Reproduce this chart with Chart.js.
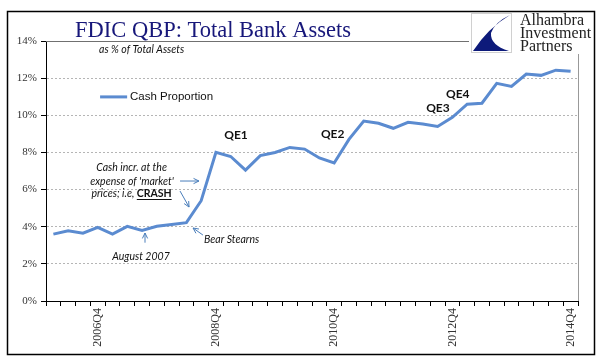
<!DOCTYPE html>
<html>
<head>
<meta charset="utf-8">
<script src="https://cdn.jsdelivr.net/npm/chart.js@4"></script>
<style>
  html, body { margin: 0; padding: 0; background: #fff; }
  canvas { display: block; }
</style>
</head>
<body>
<canvas id="grafico" width="601" height="361"></canvas>
<script>
// datos del grafico
const quarters = [
  '2006Q1', '2006Q2', '2006Q3', '2006Q4', '2007Q1', '2007Q2', '2007Q3', '2007Q4',
  '2008Q1', '2008Q2', '2008Q3', '2008Q4', '2009Q1', '2009Q2', '2009Q3', '2009Q4',
  '2010Q1', '2010Q2', '2010Q3', '2010Q4', '2011Q1', '2011Q2', '2011Q3', '2011Q4',
  '2012Q1', '2012Q2', '2012Q3', '2012Q4', '2013Q1', '2013Q2', '2013Q3', '2013Q4',
  '2014Q1', '2014Q2', '2014Q3', '2014Q4'
];
const cashProportion = [
  3.60, 3.78, 3.65, 3.97, 3.60, 4.02, 3.80, 4.02,
  4.12, 4.22, 5.40, 8.00, 7.78, 7.05, 7.83, 8.00,
  8.27, 8.18, 7.70, 7.43, 8.70, 9.69, 9.57, 9.30,
  9.62, 9.53, 9.40, 9.89, 10.60, 10.65, 11.72, 11.55,
  12.22, 12.15, 12.43, 12.37
];
const labeledQuarters = ['2006Q4', '2008Q4', '2010Q4', '2012Q4', '2014Q4'];
const yMin = 0, yMax = 14, yStep = 2;

const lineColor = '#5B8BD0';
const arrowColor = '#4A7EBB';
const noteFont = 'Lato, "Open Sans", sans-serif';

function arrow(ctx, x1, y1, x2, y2) {
  const a = Math.atan2(y2 - y1, x2 - x1), h = 6;
  ctx.beginPath();
  ctx.moveTo(x1, y1);
  ctx.lineTo(x2, y2);
  ctx.moveTo(x2 - h * Math.cos(a - 0.45), y2 - h * Math.sin(a - 0.45));
  ctx.lineTo(x2, y2);
  ctx.lineTo(x2 - h * Math.cos(a + 0.45), y2 - h * Math.sin(a + 0.45));
  ctx.stroke();
}

// fondo, marco, titulo, logo y anotaciones
const decor = {
  id: 'decor',
  beforeDraw(chart) {
    const ctx = chart.ctx;
    ctx.save();
    ctx.fillStyle = '#fff';
    ctx.fillRect(0, 0, chart.width, chart.height);
    ctx.restore();
  },
  afterDraw(chart) {
    const ctx = chart.ctx;
    const area = chart.chartArea;
    const sx = chart.scales.x, sy = chart.scales.y;
    const px = i => sx.getPixelForValue(i);
    const py = v => sy.getPixelForValue(v);
    ctx.save();

    // borde del area de trazado (arriba y derecha)
    ctx.lineWidth = 1;
    ctx.strokeStyle = '#707070';
    ctx.beginPath();
    ctx.moveTo(area.left, Math.round(area.top) + 0.5);
    ctx.lineTo(area.right, Math.round(area.top) + 0.5);
    ctx.stroke();
    ctx.strokeStyle = '#999';
    ctx.beginPath();
    ctx.moveTo(Math.round(area.right) + 0.5, area.top);
    ctx.lineTo(Math.round(area.right) + 0.5, area.bottom);
    ctx.stroke();

    // logo
    ctx.fillStyle = '#fff';
    ctx.fillRect(469, 12, 125, 42);
    ctx.strokeStyle = '#d0d0d0';
    ctx.strokeRect(471.5, 13.5, 40, 39);
    ctx.fillStyle = '#0D1A7A';
    ctx.beginPath();
    ctx.moveTo(510, 15);
    ctx.quadraticCurveTo(488, 28, 473, 51);
    ctx.lineTo(509, 51);
    ctx.quadraticCurveTo(490, 45, 491, 33);
    ctx.quadraticCurveTo(495, 22, 510, 15);
    ctx.fill();
    ctx.fillStyle = '#222';
    ctx.font = '16px "Liberation Serif", "DejaVu Serif", serif';
    ctx.textAlign = 'left';
    ctx.textBaseline = 'alphabetic';
    ctx.fillText('Alhambra', 520, 25);
    ctx.fillText('Investment', 520, 38);
    ctx.fillText('Partners', 520, 51);

    // titulo
    ctx.fillStyle = '#17177A';
    ctx.font = '22.5px "Liberation Serif", serif';
    ctx.fillText('FDIC QBP: Total Bank Assets', 75, 37);

    // marco exterior
    ctx.strokeStyle = '#000';
    ctx.lineWidth = 1.5;
    ctx.strokeRect(7.5, 11.5, 587, 343);

    // subtitulo y leyenda
    ctx.fillStyle = '#111';
    ctx.font = 'italic 10.5px ' + noteFont;
    ctx.textBaseline = 'middle';
    ctx.fillText('as % of Total Assets', px(3.09), py(13.52));

    ctx.strokeStyle = lineColor;
    ctx.lineWidth = 3;
    ctx.beginPath();
    ctx.moveTo(px(3.16), py(10.99));
    ctx.lineTo(px(4.99), py(10.99));
    ctx.stroke();
    ctx.font = '11.5px "Liberation Sans", Arial, sans-serif';
    ctx.fillText('Cash Proportion', px(5.18), py(10.99));

    // etiquetas QE
    ctx.textAlign = 'center';
    ctx.font = 'bold 12px ' + noteFont;
    [['QE1', 12.36, 8.94], ['QE2', 18.9, 8.99], ['QE3', 26.02, 10.38], ['QE4', 27.36, 11.15]]
      .forEach(q => ctx.fillText(q[0], px(q[1]), py(q[2])));

    // nota de la caida
    const fs = '10.5px ';
    ctx.font = 'italic ' + fs + noteFont;
    ctx.fillText('Cash incr. at the', px(5.29), py(7.16));
    ctx.fillText("expense of 'market'", px(5.32), py(6.41));
    const part1 = 'prices; i.e, ';
    const w1 = ctx.measureText(part1).width;
    ctx.font = 'bold ' + fs + noteFont;
    const w2 = ctx.measureText('CRASH').width;
    const cx = px(5.29), cy = py(5.76);
    const x0 = cx - (w1 + w2) / 2;
    ctx.textAlign = 'left';
    ctx.font = 'italic ' + fs + noteFont;
    ctx.fillText(part1, x0, cy);
    ctx.font = 'bold ' + fs + noteFont;
    ctx.fillText('CRASH', x0 + w1, cy);
    ctx.lineWidth = 1;
    ctx.strokeStyle = '#111';
    ctx.beginPath();
    ctx.moveTo(x0 + w1, Math.round(cy + 5) + 0.5);
    ctx.lineTo(x0 + w1 + w2, Math.round(cy + 5) + 0.5);
    ctx.stroke();

    ctx.textAlign = 'center';
    ctx.font = 'italic ' + fs + noteFont;
    ctx.fillText('Bear Stearns', px(12.06), py(3.32));
    ctx.fillText('August 2007', px(5.93), py(2.39));

    // flechas
    ctx.strokeStyle = arrowColor;
    ctx.lineWidth = 1;
    arrow(ctx, px(8.57), py(6.46), px(9.85), py(6.46));
    arrow(ctx, px(8.57), py(5.92), px(9.18), py(5.06));
    arrow(ctx, px(10.12), py(3.55), px(9.45), py(3.93));
    arrow(ctx, px(6.2), py(3.14), px(6.2), py(3.66));

    ctx.restore();
  }
};

const ctx = document.getElementById('grafico').getContext('2d');
new Chart(ctx, {
  type: 'line',
  data: {
    labels: quarters,
    datasets: [{
      label: 'Cash Proportion',
      data: cashProportion,
      borderColor: lineColor,
      backgroundColor: lineColor,
      borderWidth: 3,
      pointRadius: 0,
      tension: 0,
      fill: false
    }]
  },
  options: {
    responsive: false,
    animation: false,
    devicePixelRatio: 1,
    layout: { padding: { left: 10, right: 23, top: 41, bottom: 10 } },
    plugins: {
      legend: { display: false },
      title: { display: false },
      tooltip: { enabled: false }
    },
    scales: {
      x: {
        type: 'category',
        offset: true,
        afterFit: s => { s.height = 50; },
        grid: {
          offset: true,
          drawOnChartArea: false,
          drawTicks: true,
          tickLength: 5,
          tickColor: '#000'
        },
        border: { display: true, color: '#000', width: 1 },
        ticks: {
          autoSkip: false,
          minRotation: 90,
          maxRotation: 90,
          padding: 2,
          color: '#333',
          font: { family: '"Liberation Serif", serif', size: 12 },
          callback: function (val) {
            const q = this.getLabelForValue(val);
            return labeledQuarters.includes(q) ? q : '';
          }
        }
      },
      y: {
        min: yMin,
        max: yMax,
        afterFit: s => { s.width = 36; },
        grid: {
          color: '#b5b5b5',
          drawTicks: true,
          tickLength: 5,
          tickColor: '#000',
          tickBorderDash: []
        },
        border: { display: true, color: '#000', width: 1, dash: [2, 2] },
        ticks: {
          stepSize: yStep,
          padding: 4,
          color: '#333',
          font: { family: '"Liberation Serif", serif', size: 11 },
          callback: v => v + '%'
        }
      }
    }
  },
  plugins: [decor]
});
</script>
</body>
</html>
